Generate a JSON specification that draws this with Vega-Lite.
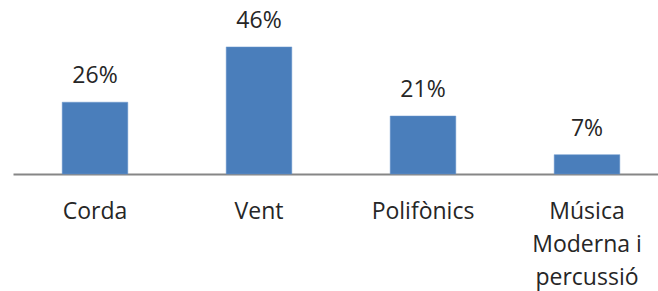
{
  "$schema": "https://vega.github.io/schema/vega-lite/v6.json",
  "width": 656,
  "height": 174,
  "autosize": {"type": "none"},
  "padding": {"left": 13, "top": 0, "right": 0, "bottom": 117},
  "background": "white",
  "config": {"view": {"stroke": null}, "font": "Open Sans"},
  "data": {
    "values": [
      {"cat": "Corda", "value": 26, "label": "26%"},
      {"cat": "Vent", "value": 46, "label": "46%"},
      {"cat": "Polifònics", "value": 21, "label": "21%"},
      {"cat": "Música|Moderna i|percussió", "value": 7, "label": "7%"}
    ]
  },
  "encoding": {
    "x": {
      "field": "cat",
      "type": "nominal",
      "sort": null,
      "scale": {"paddingInner": 0.6, "paddingOuter": 0.3},
      "axis": {
        "title": null,
        "labelAngle": 0,
        "ticks": false,
        "labelPadding": 26,
        "labelFontSize": 23,
        "labelFont": "Open Sans",
        "labelColor": "#262626",
        "labelLineHeight": 33,
        "labelExpr": "split(datum.label, '|')",
        "domainColor": "#868686",
        "domainWidth": 2,
        "labelBaseline": "top"
      }
    },
    "y": {
      "field": "value",
      "type": "quantitative",
      "scale": {"domain": [0, 63], "nice": false, "zero": true},
      "axis": null
    }
  },
  "layer": [
    {"mark": {"type": "bar", "color": "#4A7EBB", "stroke": "#6a96cc", "strokeWidth": 0.5}},
    {
      "mark": {"type": "text", "baseline": "alphabetic", "dy": -19, "fontSize": 23, "font": "Open Sans", "color": "#262626"},
      "encoding": {"text": {"field": "label"}}
    }
  ]
}
